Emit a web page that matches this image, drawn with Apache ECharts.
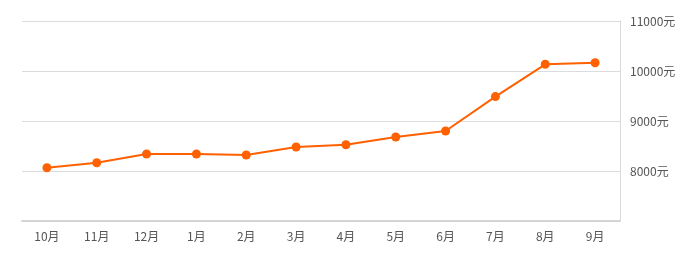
<!DOCTYPE html>
<html><head><meta charset="utf-8">
<script src="https://cdn.jsdelivr.net/npm/echarts@6/dist/echarts.min.js"></script>
<style>html,body{margin:0;padding:0;background:#fff}#c{width:692px;height:259px}</style>
</head><body><div id="c"></div>
<script>
var categories = ['10月','11月','12月','1月','2月','3月','4月','5月','6月','7月','8月','9月'];
var prices = [8066, 8166, 8340, 8340, 8320, 8480, 8526, 8680, 8800, 9488, 10134, 10166];
var yMin = 7000, yMax = 11000, yInterval = 1000;
var chart = echarts.init(document.getElementById('c'));
chart.setOption({
  animation: false,
  grid: {left: 22, right: 72, top: 21, bottom: 38, containLabel: false},
  xAxis: {
    type: 'category', data: categories, boundaryGap: true,
    axisLine: {lineStyle: {color: '#d4d4d4', width: 2}},
    axisTick: {alignWithLabel: true, lineStyle: {color: '#d4d4d4'}, length: 5},
    axisLabel: {color: '#555', fontSize: 12, margin: 9, fontFamily: '"Noto Sans CJK SC", sans-serif'}
  },
  yAxis: {
    type: 'value', position: 'right', min: yMin, max: yMax, interval: yInterval,
    axisLine: {show: true, lineStyle: {color: '#d9d9d9'}},
    axisTick: {show: false},
    splitLine: {lineStyle: {color: '#dcdcdc'}},
    axisLabel: {color: '#555', fontSize: 12, margin: 10, showMinLabel: false,
      fontFamily: '"Noto Sans CJK SC", sans-serif',
      formatter: function(v){ return v + '元'; }}
  },
  series: [{
    type: 'line', data: prices,
    symbol: 'circle', symbolSize: 9, showAllSymbol: true,
    lineStyle: {color: '#ff6000', width: 2},
    itemStyle: {color: '#ff6000'}
  }]
});
</script></body></html>
